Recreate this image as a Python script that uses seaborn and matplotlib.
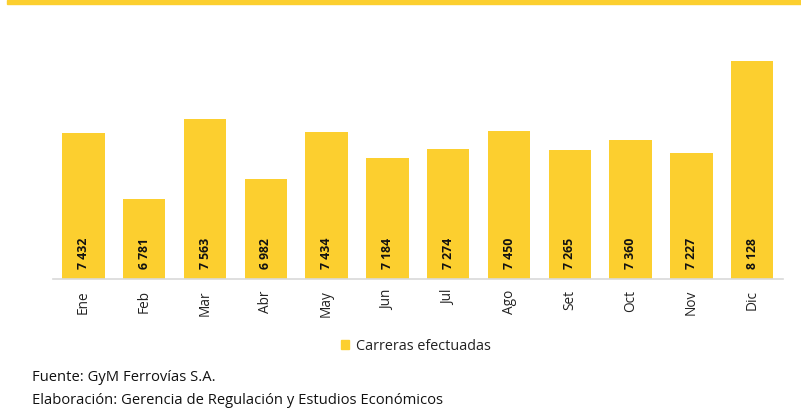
import matplotlib
matplotlib.use("Agg")
import matplotlib.pyplot as plt
import matplotlib.patches as mpatches
import seaborn as sns
import pandas as pd

meses = ["Ene", "Feb", "Mar", "Abr", "May", "Jun", "Jul", "Ago", "Set", "Oct", "Nov", "Dic"]
carreras = [7432, 6781, 7563, 6982, 7434, 7184, 7274, 7450, 7265, 7360, 7227, 8128]
serie = "Carreras efectuadas"
fuente = "Fuente: GyM Ferrovías S.A."
elaboracion = "Elaboración: Gerencia de Regulación y Estudios Económicos"

AMARILLO = "#FCCF2F"
W, H = 801, 408

sns.set_theme(style="white")
plt.rcParams["font.family"] = ["Open Sans", "DejaVu Sans"]

df = pd.DataFrame({"mes": meses, "valor": carreras})

fig = plt.figure(figsize=(W / 100, H / 100), dpi=100)
ax = fig.add_axes([53 / W, (H - 279) / H, (782.6 - 53) / W, 259 / H])

sns.barplot(data=df, x="mes", y="valor", color=AMARILLO, saturation=1,
            width=0.7, ax=ax, zorder=2)
for p in ax.patches:
    p.set_edgecolor("none")

ax.set_ylim(6000, 8532)
ax.set_xlim(-0.5, len(meses) - 0.5)
ax.set_xlabel("")
ax.set_ylabel("")
ax.set_yticks([])
for s in ["top", "left", "right"]:
    ax.spines[s].set_visible(False)
ax.spines["bottom"].set_color("#D9D9D9")
ax.spines["bottom"].set_linewidth(1.2)
ax.tick_params(axis="x", length=0, pad=8, labelsize=9.8, labelcolor="#222222",
               rotation=90)

# value labels inside each bar, near the base
for i, v in enumerate(carreras):
    txt = f"{v:,}".replace(",", " ")
    ax.annotate(txt, (i, 6000), xytext=(0, 7), textcoords="offset points",
                rotation=90, ha="center", va="bottom", fontsize=8.8,
                fontweight="bold", color="#111111", zorder=3)

# legend
handle = mpatches.Patch(color=AMARILLO, label=serie)
fig.legend(handles=[handle], loc="center", bbox_to_anchor=(416 / W, 1 - 346 / H),
           frameon=False, fontsize=10.4, handlelength=0.55, handleheight=0.55,
           handletextpad=0.5, labelcolor="#222222")

# top stripe
fig.patches.append(mpatches.Rectangle((7 / W, 1 - 4 / H), 1 - 7 / W, 4 / H,
                                      transform=fig.transFigure, color=AMARILLO,
                                      zorder=5))

fig.text(32 / W, 1 - 381 / H, fuente, fontsize=10.6, color="#111111", va="baseline")
fig.text(32 / W, 1 - 403.5 / H, elaboracion, fontsize=10.6, color="#111111",
         va="baseline")

fig.savefig("out.png", dpi=100)
